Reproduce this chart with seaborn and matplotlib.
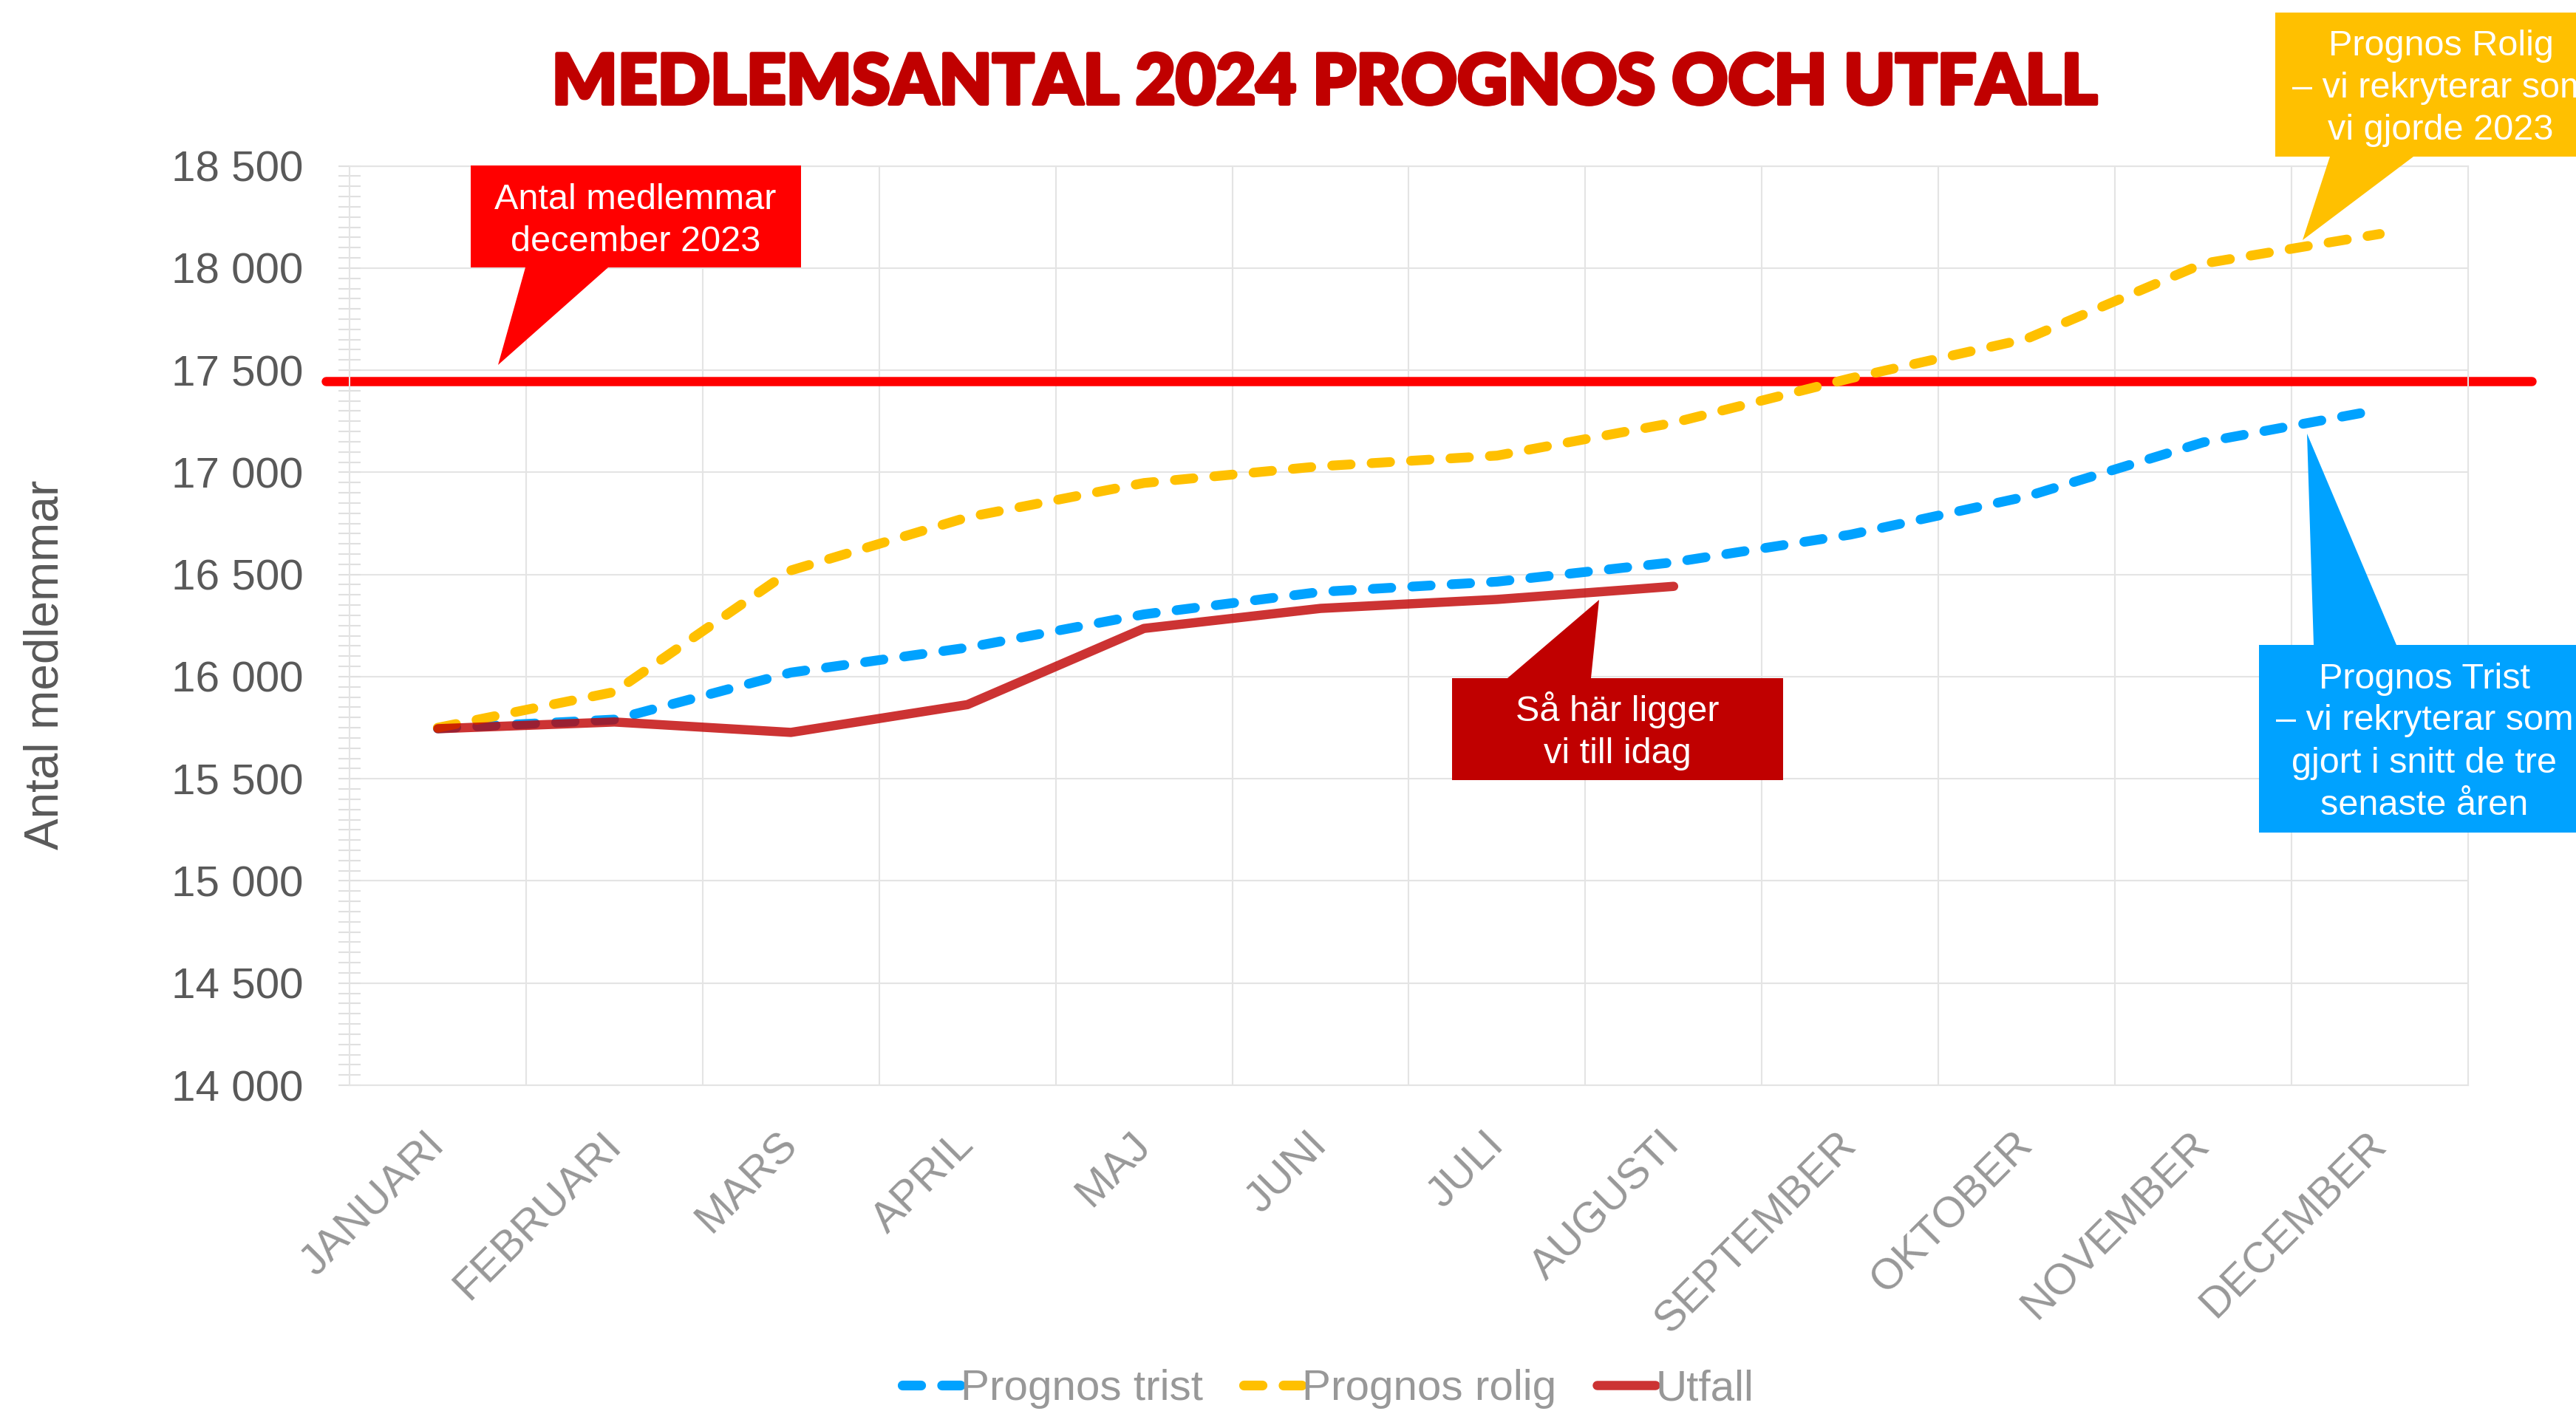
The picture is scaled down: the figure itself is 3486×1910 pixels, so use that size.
import numpy as np
import matplotlib
matplotlib.use("Agg")
import matplotlib.pyplot as plt
import matplotlib.patheffects as pe
from matplotlib.patches import Polygon
from matplotlib.ticker import MultipleLocator, FuncFormatter
import seaborn as sns

# data
months = ["JANUARI", "FEBRUARI", "MARS", "APRIL", "MAJ", "JUNI", "JULI",
          "AUGUSTI", "SEPTEMBER", "OKTOBER", "NOVEMBER", "DECEMBER"]
prognos_trist = [15747, 15790, 16020, 16142, 16305, 16415, 16465, 16560,
                 16695, 16882, 17147, 17307]
prognos_rolig = [15750, 15925, 16520, 16780, 16948, 17030, 17082, 17243,
                 17460, 17654, 18022, 18167]
utfall = [15745, 15778, 15727, 15863, 16236, 16334, 16378, 16442]
members_dec_2023 = 17447

BLUE = "#00A2FF"
YELLOW = "#FFC000"
DARKRED = "#C00000"
RED = "#FF0000"
GRID = "#E4E4E4"

W, H = 3487, 1910

sns.set_theme(style="white")
plt.rcParams["font.family"] = ["Liberation Sans", "DejaVu Sans"]

fig = plt.figure(figsize=(W / 100, H / 100), dpi=100)
ax = fig.add_axes([473 / W, 1 - 1469 / H, (3340 - 473) / W, (1469 - 224.6) / H])


def px(x, y):
    return (x / W, 1 - y / H)


# reference line december 2023 (runs a bit outside the plot area)
ax.axhline(members_dec_2023, xmin=-0.011, xmax=1.03, color=RED, lw=9,
           clip_on=False, zorder=2)

dash = (0, (1.9, 2.15))
x_all = np.arange(len(months))
sns.lineplot(x=x_all, y=prognos_trist, ax=ax, color=BLUE, linewidth=9.5,
             linestyle=dash, dash_capstyle="round", errorbar=None,
             label="Prognos trist", zorder=3)
sns.lineplot(x=x_all, y=prognos_rolig, ax=ax, color=YELLOW, linewidth=9.5,
             linestyle=dash, dash_capstyle="round", errorbar=None,
             label="Prognos rolig", zorder=3)
sns.lineplot(x=x_all[:len(utfall)], y=utfall, ax=ax, color=DARKRED, alpha=0.8,
             linewidth=9, solid_capstyle="round", errorbar=None,
             label="Utfall", zorder=4)

handles, labels = ax.get_legend_handles_labels()
if ax.get_legend() is not None:
    ax.get_legend().remove()

# axes
ax.set_xlim(-0.5, 11.5)
ax.set_ylim(14000, 18500)
ax.set_xlabel("")
ax.set_ylabel("")
ax.set_xticks(x_all)
ax.set_xticklabels(months, rotation=45, ha="right", va="center",
                   rotation_mode="anchor", fontsize=42, color="#989898")
ax.set_xticks(np.arange(0.5, 11, 1), minor=True)
ax.tick_params(axis="x", which="both", length=0, pad=52)

ax.yaxis.set_major_locator(MultipleLocator(500))
ax.yaxis.set_minor_locator(MultipleLocator(50))
ax.yaxis.set_major_formatter(FuncFormatter(lambda v, p: f"{v:,.0f}".replace(",", " ")))
ax.tick_params(axis="y", which="both", direction="inout", length=22, width=1.5,
               color="#E0E0E0", left=True)
ax.tick_params(axis="y", which="major", labelsize=42, labelcolor="#595959", pad=34)

ax.grid(False)
ax.grid(True, which="major", axis="y", color=GRID, lw=1.5)
ax.grid(True, which="minor", axis="x", color=GRID, lw=1.5)
for s in ax.spines.values():
    s.set_color(GRID)
    s.set_linewidth(1.5)
ax.set_axisbelow(True)

# titles
fig.text(*px(1793, 140.7), "MEDLEMSANTAL 2024 PROGNOS OCH UTFALL", ha="center",
         va="baseline", fontsize=67.5, fontweight="black", color=DARKRED,
         family=["Lato", "DejaVu Sans"],
         path_effects=[pe.withStroke(linewidth=3.5, foreground=DARKRED)])
fig.text(*px(62, 900), "Antal medlemmar", rotation=90, ha="center", va="center",
         fontsize=46, color="#595959")

fig.legend(handles, labels, loc="center", bbox_to_anchor=px(1797, 1880), ncol=3,
           frameon=False, fontsize=42, handlelength=1.35, handletextpad=0.0,
           columnspacing=0.95, labelcolor="#989898", borderpad=0)


# callouts
def callout(box, base, tip, color, lines, baselines, cx):
    x0, y0, x1, y1 = box
    rect = [px(x0, y0), px(x1, y0), px(x1, y1), px(x0, y1)]
    fig.add_artist(Polygon(rect, closed=True, facecolor=color, edgecolor="none",
                           transform=fig.transFigure, clip_on=False, zorder=5))
    wedge = [px(*base[0]), px(*base[1]), px(*tip)]
    fig.add_artist(Polygon(wedge, closed=True, facecolor=color, edgecolor="none",
                           transform=fig.transFigure, clip_on=False, zorder=5))
    for line, by in zip(lines, baselines):
        fig.text(*px(cx, by), line, ha="center", va="baseline", fontsize=35,
                 color="white", zorder=6)


callout((637, 224, 1084, 362), [(711, 362), (823, 362)], (674, 494), RED,
        ["Antal medlemmar", "december 2023"], [283, 340], 860)
# the two right-hand boxes run past the figure edge, as in the original
callout((3079, 17, 3527, 212), [(3153, 212), (3266, 212)], (3116, 325), YELLOW,
        ["Prognos Rolig", "– vi rekryterar som", "vi gjorde 2023"],
        [75, 132, 189], 3303)
callout((3057, 873, 3505, 1127), [(3131, 873), (3243, 873)], (3122, 587), BLUE,
        ["Prognos Trist", "– vi rekryterar som", "gjort i snitt de tre",
         "senaste åren"], [932, 988, 1046, 1103], 3281)
callout((1965, 918, 2413, 1056), [(2040, 918), (2153, 918)], (2164, 812), DARKRED,
        ["Så här ligger", "vi till idag"], [976, 1033], 2189)

fig.savefig("out.png", dpi=100)
